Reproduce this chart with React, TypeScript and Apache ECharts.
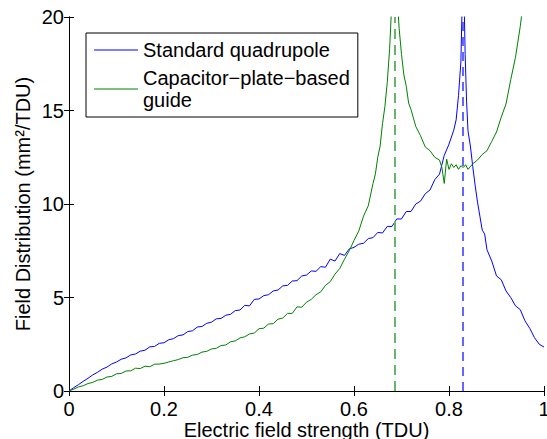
import React, { useEffect, useRef } from "react";
import * as echarts from "echarts";

const xTicks = [0, 0.2, 0.4, 0.6, 0.8, 1];
const yTicks = [0, 5, 10, 15, 20];

const quadX = [
  0, 0.01, 0.02, 0.03, 0.04, 0.05, 0.06, 0.07, 0.08, 0.09,
  0.1, 0.11, 0.12, 0.13, 0.14, 0.15, 0.16, 0.17, 0.18, 0.19,
  0.2, 0.21, 0.22, 0.23, 0.24, 0.25, 0.26, 0.27, 0.28, 0.29,
  0.3, 0.31, 0.32, 0.33, 0.34, 0.35, 0.36, 0.37, 0.38, 0.39,
  0.4, 0.41, 0.42, 0.43, 0.44, 0.45, 0.46, 0.47, 0.48, 0.49,
  0.5, 0.51, 0.52, 0.53, 0.54, 0.55, 0.56, 0.57, 0.58, 0.59,
  0.6, 0.61, 0.62, 0.63, 0.64, 0.65, 0.66, 0.67, 0.68, 0.69,
  0.7, 0.71, 0.72, 0.73, 0.74, 0.75, 0.76, 0.77, 0.78, 0.79,
  0.8, 0.81, 0.815, 0.82, 0.825, 0.828, 0.831, 0.834, 0.837, 0.84,
  0.845, 0.85, 0.855, 0.86, 0.865, 0.87, 0.875, 0.88, 0.89, 0.9,
  0.91, 0.92, 0.93, 0.94, 0.95, 0.96, 0.97, 0.98, 0.99, 1.0,
];
const quadY = [
  0, 0.18, 0.34, 0.52, 0.68, 0.86, 1.0, 1.17, 1.28, 1.45,
  1.55, 1.7, 1.77, 1.93, 1.98, 2.13, 2.18, 2.36, 2.38, 2.55,
  2.58, 2.74, 2.8, 2.96, 3.0, 3.18, 3.22, 3.42, 3.45, 3.62,
  3.68, 3.86, 3.88, 4.05, 4.1, 4.3, 4.33, 4.58, 4.55, 4.9,
  4.92, 5.1, 5.15, 5.35, 5.4, 5.62, 5.65, 5.88, 5.9, 6.15,
  6.2, 6.42, 6.4, 6.65, 6.62, 7.05, 6.95, 7.35, 7.25, 7.6,
  7.68, 7.85, 7.9, 8.15, 8.2, 8.48, 8.45, 8.8, 8.8, 9.2,
  9.2, 9.6, 9.6, 10.0, 10.15, 10.55, 10.75, 11.3, 11.6, 12.6,
  13.2, 13.95, 14.5, 15.8, 17.6, 21, 22, 18, 15.5, 13.9,
  13.1, 12.0, 11.0, 10.1, 9.35, 8.6, 8.4, 7.55, 6.95, 6.15,
  5.95, 5.35, 5.0, 4.55, 4.35, 3.75, 3.35, 2.85, 2.5, 2.35,
];

const plateX = [
  0, 0.01, 0.02, 0.03, 0.04, 0.05, 0.06, 0.07, 0.08, 0.09,
  0.1, 0.11, 0.12, 0.13, 0.14, 0.15, 0.16, 0.17, 0.18, 0.19,
  0.2, 0.21, 0.22, 0.23, 0.24, 0.25, 0.26, 0.27, 0.28, 0.29,
  0.3, 0.31, 0.32, 0.33, 0.34, 0.35, 0.36, 0.37, 0.38, 0.39,
  0.4, 0.41, 0.42, 0.43, 0.44, 0.45, 0.46, 0.47, 0.48, 0.49,
  0.5, 0.51, 0.52, 0.53, 0.54, 0.55, 0.56, 0.57, 0.58, 0.59,
  0.6, 0.61, 0.62, 0.63, 0.64, 0.645, 0.65, 0.655, 0.66, 0.665,
  0.67, 0.675, 0.68, 0.685, 0.69, 0.695, 0.7, 0.705, 0.71, 0.715,
  0.72, 0.73, 0.74, 0.75, 0.76, 0.77, 0.78, 0.785, 0.79, 0.795,
  0.8, 0.805, 0.81, 0.815, 0.82, 0.825, 0.83, 0.835, 0.84, 0.85,
  0.86, 0.87, 0.88, 0.89, 0.9, 0.91, 0.92, 0.93, 0.94, 0.95,
  0.96, 0.97,
];
const plateY = [
  0, 0.1, 0.22, 0.28, 0.4, 0.46, 0.58, 0.62, 0.75, 0.78,
  0.92, 0.94, 1.07, 1.08, 1.22, 1.2, 1.33, 1.3, 1.43, 1.44,
  1.48, 1.55, 1.62, 1.68, 1.78, 1.8, 1.92, 1.95, 2.08, 2.12,
  2.25, 2.28, 2.43, 2.46, 2.63, 2.68, 2.84, 2.9, 3.05, 3.1,
  3.33, 3.36, 3.58, 3.6, 3.84, 3.9, 4.15, 4.15, 4.5, 4.48,
  4.75, 4.9, 5.15, 5.3, 5.65, 5.85, 6.25, 6.55, 7.05, 7.5,
  8.05, 8.55, 9.35, 9.9, 11.1, 11.6, 12.5, 13.1, 14.3, 15.2,
  16.5, 18.3, 21, 24, 21.5, 19.4, 18.0, 16.9, 16.3, 15.4,
  15.05, 14.15, 13.65, 13.05, 12.85, 12.5, 12.35, 11.95, 11.1, 12.4,
  11.85, 12.15, 11.95, 12.1, 11.85, 12.05, 11.95, 12.1, 11.85, 12.15,
  12.35, 12.65, 12.85, 13.35, 13.85, 14.65, 15.35, 16.65, 17.85, 19.5,
  21.5, 24,
];

const quadPeak = 0.828;
const platePeak = 0.6855;

const FONT = "'Liberation Sans', Arial, Helvetica, sans-serif";

export default function App() {
  const ref = useRef<HTMLDivElement>(null);
  useEffect(() => {
    if (!ref.current) return;
    const chart = echarts.init(ref.current, undefined, { renderer: "svg" });
    const quadData = quadX.map((x, i) => [x, quadY[i]]);
    const plateData = plateX.map((x, i) => [x, plateY[i]]);
    const axisLine = { show: true, lineStyle: { color: "#000", width: 1 } };
    const tick = { show: true, inside: true, length: 5, lineStyle: { color: "#000", width: 1 } };
    const label = { color: "#000", fontSize: 20, fontFamily: FONT };
    chart.setOption({
      animation: false,
      backgroundColor: "#fff",
      textStyle: { fontFamily: FONT },
      grid: {
        left: 69,
        right: 3,
        top: 17,
        bottom: 48,
        containLabel: false,
        outerBoundsMode: "none",
      },
      legend: {
        show: true,
        orient: "vertical",
        left: 86,
        top: 33,
        padding: [6, 8, 6, 8],
        itemGap: 6,
        itemWidth: 44,
        itemHeight: 1.2,
        icon: "rect",
        backgroundColor: "#fff",
        borderColor: "#000",
        borderWidth: 1,
        borderRadius: 0,
        textStyle: { color: "#000", fontSize: 20, lineHeight: 22, fontFamily: FONT },
        data: ["Standard quadrupole", "Capacitor\u2212plate\u2212based\nguide"],
      },
      xAxis: [
        {
          type: "value",
          position: "bottom",
          min: 0,
          max: 1,
          interval: 0.2,
          axisLine,
          axisTick: tick,
          axisLabel: { ...label, margin: 8, formatter: (v: number) => String(+v.toFixed(1)) },
          splitLine: { show: false },
          name: "Electric field strength (TDU)",
          nameLocation: "middle",
          nameGap: 29,
          nameMoveOverlap: false,
          nameTextStyle: { color: "#000", fontSize: 20, fontFamily: FONT },
        },
        {
          type: "value",
          position: "top",
          min: 0,
          max: 1,
          interval: 0.2,
          axisLine,
          axisTick: tick,
          axisLabel: { show: false },
          splitLine: { show: false },
        },
      ],
      yAxis: [
        {
          type: "value",
          position: "left",
          min: 0,
          max: 20,
          interval: 5,
          axisLine,
          axisTick: tick,
          axisLabel: { ...label, margin: 5 },
          splitLine: { show: false },
          name: "Field Distribution (mm\u00b2/TDU)",
          nameLocation: "middle",
          nameGap: 36,
          nameMoveOverlap: false,
          nameTextStyle: { color: "#000", fontSize: 20, fontFamily: FONT },
        },
        {
          type: "value",
          position: "right",
          min: 0,
          max: 20,
          interval: 5,
          axisLine,
          axisTick: tick,
          axisLabel: { show: false },
          splitLine: { show: false },
        },
      ],
      series: [
        {
          name: "Standard quadrupole",
          type: "line",
          xAxisIndex: 0,
          yAxisIndex: 0,
          data: quadData,
          symbol: "none",
          clip: true,
          color: "#0000ff",
          lineStyle: { color: "#0000ff", width: 1 },
          markLine: {
            silent: true,
            symbol: ["none", "none"],
            label: { show: false },
            lineStyle: { color: "#3333ff", type: [9, 6], width: 1.5 },
            data: [[{ coord: [quadPeak, 0] }, { coord: [quadPeak, 20] }]],
          },
        },
        {
          name: "Capacitor\u2212plate\u2212based\nguide",
          type: "line",
          xAxisIndex: 0,
          yAxisIndex: 0,
          data: plateData,
          symbol: "none",
          clip: true,
          color: "#008000",
          lineStyle: { color: "#008000", width: 1 },
          markLine: {
            silent: true,
            symbol: ["none", "none"],
            label: { show: false },
            lineStyle: { color: "#66b866", type: [10, 6], width: 2 },
            data: [[{ coord: [platePeak, 0] }, { coord: [platePeak, 20] }]],
          },
        },
      ],
    });
    return () => chart.dispose();
  }, []);
  return (
    <div
      ref={ref}
      style={{ position: "fixed", left: 0, top: 0, width: 547, height: 439, background: "#fff" }}
    />
  );
}
